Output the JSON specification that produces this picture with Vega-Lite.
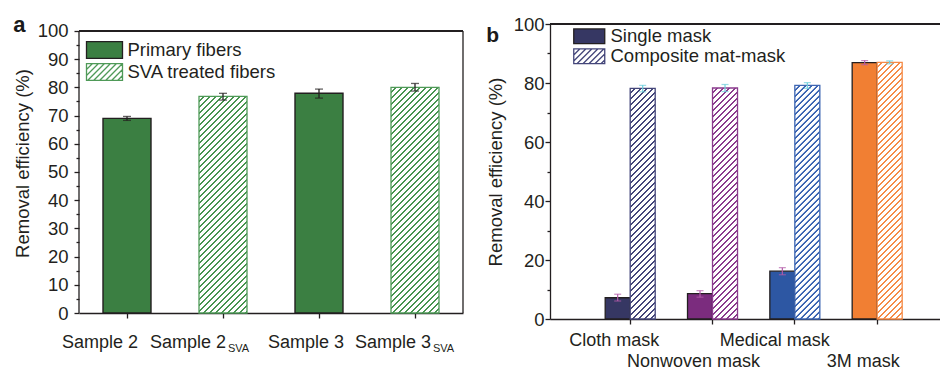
{
  "$schema": "https://vega.github.io/schema/vega-lite/v6.json",
  "background": "white",
  "padding": {"left": 13, "top": 14, "right": 0, "bottom": 0},
  "spacing": 22,
  "resolve": {
    "scale": {"shape": "independent", "fill": "independent", "stroke": "independent", "color": "independent"},
    "legend": {"shape": "independent", "fill": "independent", "stroke": "independent"}
  },
  "params": [
    {"name": "hatch", "value": [
      {"offset":0.0005,"color":"#fff"},{"offset":0.0125,"color":"#fff"},{"offset":0.0135,"color":"rgba(255,255,255,0)"},{"offset":0.0195,"color":"rgba(255,255,255,0)"},
      {"offset":0.0205,"color":"#fff"},{"offset":0.0325,"color":"#fff"},{"offset":0.0335,"color":"rgba(255,255,255,0)"},{"offset":0.0395,"color":"rgba(255,255,255,0)"},
      {"offset":0.0405,"color":"#fff"},{"offset":0.0525,"color":"#fff"},{"offset":0.0535,"color":"rgba(255,255,255,0)"},{"offset":0.0595,"color":"rgba(255,255,255,0)"},
      {"offset":0.0605,"color":"#fff"},{"offset":0.0725,"color":"#fff"},{"offset":0.0735,"color":"rgba(255,255,255,0)"},{"offset":0.0795,"color":"rgba(255,255,255,0)"},
      {"offset":0.0805,"color":"#fff"},{"offset":0.0925,"color":"#fff"},{"offset":0.0935,"color":"rgba(255,255,255,0)"},{"offset":0.0995,"color":"rgba(255,255,255,0)"},
      {"offset":0.1005,"color":"#fff"},{"offset":0.1125,"color":"#fff"},{"offset":0.1135,"color":"rgba(255,255,255,0)"},{"offset":0.1195,"color":"rgba(255,255,255,0)"},
      {"offset":0.1205,"color":"#fff"},{"offset":0.1325,"color":"#fff"},{"offset":0.1335,"color":"rgba(255,255,255,0)"},{"offset":0.1395,"color":"rgba(255,255,255,0)"},
      {"offset":0.1405,"color":"#fff"},{"offset":0.1525,"color":"#fff"},{"offset":0.1535,"color":"rgba(255,255,255,0)"},{"offset":0.1595,"color":"rgba(255,255,255,0)"},
      {"offset":0.1605,"color":"#fff"},{"offset":0.1725,"color":"#fff"},{"offset":0.1735,"color":"rgba(255,255,255,0)"},{"offset":0.1795,"color":"rgba(255,255,255,0)"},
      {"offset":0.1805,"color":"#fff"},{"offset":0.1925,"color":"#fff"},{"offset":0.1935,"color":"rgba(255,255,255,0)"},{"offset":0.1995,"color":"rgba(255,255,255,0)"},
      {"offset":0.2005,"color":"#fff"},{"offset":0.2125,"color":"#fff"},{"offset":0.2135,"color":"rgba(255,255,255,0)"},{"offset":0.2195,"color":"rgba(255,255,255,0)"},
      {"offset":0.2205,"color":"#fff"},{"offset":0.2325,"color":"#fff"},{"offset":0.2335,"color":"rgba(255,255,255,0)"},{"offset":0.2395,"color":"rgba(255,255,255,0)"},
      {"offset":0.2405,"color":"#fff"},{"offset":0.2525,"color":"#fff"},{"offset":0.2535,"color":"rgba(255,255,255,0)"},{"offset":0.2595,"color":"rgba(255,255,255,0)"},
      {"offset":0.2605,"color":"#fff"},{"offset":0.2725,"color":"#fff"},{"offset":0.2735,"color":"rgba(255,255,255,0)"},{"offset":0.2795,"color":"rgba(255,255,255,0)"},
      {"offset":0.2805,"color":"#fff"},{"offset":0.2925,"color":"#fff"},{"offset":0.2935,"color":"rgba(255,255,255,0)"},{"offset":0.2995,"color":"rgba(255,255,255,0)"},
      {"offset":0.3005,"color":"#fff"},{"offset":0.3125,"color":"#fff"},{"offset":0.3135,"color":"rgba(255,255,255,0)"},{"offset":0.3195,"color":"rgba(255,255,255,0)"},
      {"offset":0.3205,"color":"#fff"},{"offset":0.3325,"color":"#fff"},{"offset":0.3335,"color":"rgba(255,255,255,0)"},{"offset":0.3395,"color":"rgba(255,255,255,0)"},
      {"offset":0.3405,"color":"#fff"},{"offset":0.3525,"color":"#fff"},{"offset":0.3535,"color":"rgba(255,255,255,0)"},{"offset":0.3595,"color":"rgba(255,255,255,0)"},
      {"offset":0.3605,"color":"#fff"},{"offset":0.3725,"color":"#fff"},{"offset":0.3735,"color":"rgba(255,255,255,0)"},{"offset":0.3795,"color":"rgba(255,255,255,0)"},
      {"offset":0.3805,"color":"#fff"},{"offset":0.3925,"color":"#fff"},{"offset":0.3935,"color":"rgba(255,255,255,0)"},{"offset":0.3995,"color":"rgba(255,255,255,0)"},
      {"offset":0.4005,"color":"#fff"},{"offset":0.4125,"color":"#fff"},{"offset":0.4135,"color":"rgba(255,255,255,0)"},{"offset":0.4195,"color":"rgba(255,255,255,0)"},
      {"offset":0.4205,"color":"#fff"},{"offset":0.4325,"color":"#fff"},{"offset":0.4335,"color":"rgba(255,255,255,0)"},{"offset":0.4395,"color":"rgba(255,255,255,0)"},
      {"offset":0.4405,"color":"#fff"},{"offset":0.4525,"color":"#fff"},{"offset":0.4535,"color":"rgba(255,255,255,0)"},{"offset":0.4595,"color":"rgba(255,255,255,0)"},
      {"offset":0.4605,"color":"#fff"},{"offset":0.4725,"color":"#fff"},{"offset":0.4735,"color":"rgba(255,255,255,0)"},{"offset":0.4795,"color":"rgba(255,255,255,0)"},
      {"offset":0.4805,"color":"#fff"},{"offset":0.4925,"color":"#fff"},{"offset":0.4935,"color":"rgba(255,255,255,0)"},{"offset":0.4995,"color":"rgba(255,255,255,0)"},
      {"offset":0.5005,"color":"#fff"},{"offset":0.5125,"color":"#fff"},{"offset":0.5135,"color":"rgba(255,255,255,0)"},{"offset":0.5195,"color":"rgba(255,255,255,0)"},
      {"offset":0.5205,"color":"#fff"},{"offset":0.5325,"color":"#fff"},{"offset":0.5335,"color":"rgba(255,255,255,0)"},{"offset":0.5395,"color":"rgba(255,255,255,0)"},
      {"offset":0.5405,"color":"#fff"},{"offset":0.5525,"color":"#fff"},{"offset":0.5535,"color":"rgba(255,255,255,0)"},{"offset":0.5595,"color":"rgba(255,255,255,0)"},
      {"offset":0.5605,"color":"#fff"},{"offset":0.5725,"color":"#fff"},{"offset":0.5735,"color":"rgba(255,255,255,0)"},{"offset":0.5795,"color":"rgba(255,255,255,0)"},
      {"offset":0.5805,"color":"#fff"},{"offset":0.5925,"color":"#fff"},{"offset":0.5935,"color":"rgba(255,255,255,0)"},{"offset":0.5995,"color":"rgba(255,255,255,0)"},
      {"offset":0.6005,"color":"#fff"},{"offset":0.6125,"color":"#fff"},{"offset":0.6135,"color":"rgba(255,255,255,0)"},{"offset":0.6195,"color":"rgba(255,255,255,0)"},
      {"offset":0.6205,"color":"#fff"},{"offset":0.6325,"color":"#fff"},{"offset":0.6335,"color":"rgba(255,255,255,0)"},{"offset":0.6395,"color":"rgba(255,255,255,0)"},
      {"offset":0.6405,"color":"#fff"},{"offset":0.6525,"color":"#fff"},{"offset":0.6535,"color":"rgba(255,255,255,0)"},{"offset":0.6595,"color":"rgba(255,255,255,0)"},
      {"offset":0.6605,"color":"#fff"},{"offset":0.6725,"color":"#fff"},{"offset":0.6735,"color":"rgba(255,255,255,0)"},{"offset":0.6795,"color":"rgba(255,255,255,0)"},
      {"offset":0.6805,"color":"#fff"},{"offset":0.6925,"color":"#fff"},{"offset":0.6935,"color":"rgba(255,255,255,0)"},{"offset":0.6995,"color":"rgba(255,255,255,0)"},
      {"offset":0.7005,"color":"#fff"},{"offset":0.7125,"color":"#fff"},{"offset":0.7135,"color":"rgba(255,255,255,0)"},{"offset":0.7195,"color":"rgba(255,255,255,0)"},
      {"offset":0.7205,"color":"#fff"},{"offset":0.7325,"color":"#fff"},{"offset":0.7335,"color":"rgba(255,255,255,0)"},{"offset":0.7395,"color":"rgba(255,255,255,0)"},
      {"offset":0.7405,"color":"#fff"},{"offset":0.7525,"color":"#fff"},{"offset":0.7535,"color":"rgba(255,255,255,0)"},{"offset":0.7595,"color":"rgba(255,255,255,0)"},
      {"offset":0.7605,"color":"#fff"},{"offset":0.7725,"color":"#fff"},{"offset":0.7735,"color":"rgba(255,255,255,0)"},{"offset":0.7795,"color":"rgba(255,255,255,0)"},
      {"offset":0.7805,"color":"#fff"},{"offset":0.7925,"color":"#fff"},{"offset":0.7935,"color":"rgba(255,255,255,0)"},{"offset":0.7995,"color":"rgba(255,255,255,0)"},
      {"offset":0.8005,"color":"#fff"},{"offset":0.8125,"color":"#fff"},{"offset":0.8135,"color":"rgba(255,255,255,0)"},{"offset":0.8195,"color":"rgba(255,255,255,0)"},
      {"offset":0.8205,"color":"#fff"},{"offset":0.8325,"color":"#fff"},{"offset":0.8335,"color":"rgba(255,255,255,0)"},{"offset":0.8395,"color":"rgba(255,255,255,0)"},
      {"offset":0.8405,"color":"#fff"},{"offset":0.8525,"color":"#fff"},{"offset":0.8535,"color":"rgba(255,255,255,0)"},{"offset":0.8595,"color":"rgba(255,255,255,0)"},
      {"offset":0.8605,"color":"#fff"},{"offset":0.8725,"color":"#fff"},{"offset":0.8735,"color":"rgba(255,255,255,0)"},{"offset":0.8795,"color":"rgba(255,255,255,0)"},
      {"offset":0.8805,"color":"#fff"},{"offset":0.8925,"color":"#fff"},{"offset":0.8935,"color":"rgba(255,255,255,0)"},{"offset":0.8995,"color":"rgba(255,255,255,0)"},
      {"offset":0.9005,"color":"#fff"},{"offset":0.9125,"color":"#fff"},{"offset":0.9135,"color":"rgba(255,255,255,0)"},{"offset":0.9195,"color":"rgba(255,255,255,0)"},
      {"offset":0.9205,"color":"#fff"},{"offset":0.9325,"color":"#fff"},{"offset":0.9335,"color":"rgba(255,255,255,0)"},{"offset":0.9395,"color":"rgba(255,255,255,0)"},
      {"offset":0.9405,"color":"#fff"},{"offset":0.9525,"color":"#fff"},{"offset":0.9535,"color":"rgba(255,255,255,0)"},{"offset":0.9595,"color":"rgba(255,255,255,0)"},
      {"offset":0.9605,"color":"#fff"},{"offset":0.9725,"color":"#fff"},{"offset":0.9735,"color":"rgba(255,255,255,0)"},{"offset":0.9795,"color":"rgba(255,255,255,0)"},
      {"offset":0.9805,"color":"#fff"},{"offset":0.9925,"color":"#fff"},{"offset":0.9935,"color":"rgba(255,255,255,0)"},{"offset":0.9995,"color":"rgba(255,255,255,0)"}
    ]}
  ],
  "config": {
    "font": "Liberation Sans",
    "view": {"stroke": null},
    "axis": {
      "labelFont": "Liberation Sans", "titleFont": "Liberation Sans",
      "labelColor": "#231f20", "titleColor": "#231f20",
      "domainColor": "#231f20", "tickColor": "#231f20",
      "domainWidth": 1.3, "tickWidth": 1.3, "grid": false,
      "titleFontWeight": "normal", "labelFontSize": 18.5, "titleFontSize": 18.5
    },
    "legend": {"labelFont": "Liberation Sans", "labelFontSize": 18.5, "labelColor": "#231f20", "labelLimit": 400},
    "title": {"font": "Liberation Sans", "fontWeight": "bold", "color": "#1a1a1a"}
  },
  "hconcat": [
    {
      "width": 384,
      "height": 289,
      "title": {"text": "a", "anchor": "start", "frame": "bounds", "offset": 0, "dy": 15.5, "fontSize": 22},
      "resolve": {"axis": {"x": "independent", "y": "independent"}},
      "data": {"values": [
        {"sample": "Sample 2", "label": "Sample 2", "type": "Primary fibers", "value": 69.0, "lo": 68.3, "hi": 69.7, "sub": ""},
        {"sample": "Sample 2 SVA", "label": "Sample 2", "type": "SVA treated fibers", "value": 76.8, "lo": 75.5, "hi": 77.9, "sub": "SVA"},
        {"sample": "Sample 3", "label": "Sample 3", "type": "Primary fibers", "value": 77.9, "lo": 76.2, "hi": 79.4, "sub": ""},
        {"sample": "Sample 3 SVA", "label": "Sample 3", "type": "SVA treated fibers", "value": 80.0, "lo": 78.7, "hi": 81.4, "sub": "SVA"}
      ]},
      "layer": [
        {
          "transform": [{"filter": "datum.type === 'Primary fibers'"}],
          "mark": {"type": "bar", "fill": "#3b7f42", "stroke": "#231f20", "strokeWidth": 1.4},
          "encoding": {
            "x": {
              "field": "sample", "type": "nominal",
              "scale": {"domain": ["Sample 2", "Sample 2 SVA", "Sample 3", "Sample 3 SVA"], "paddingInner": 0.5, "paddingOuter": 0.25},
              "axis": {"title": null, "labels": false, "tickSize": 5}
            },
            "y": {
              "field": "value", "type": "quantitative", "title": "Removal efficiency (%)",
              "scale": {"domain": [0, 102.482], "nice": false},
              "axis": {
                "values": [0,5,10,15,20,25,30,35,40,45,50,55,60,65,70,75,80,85,90,95,100],
                "labelExpr": "datum.value % 10 === 0 ? datum.label : ''",
                "tickSize": {"condition": {"test": "datum.value % 10 !== 0", "value": 3}, "value": 5},
                "domain": false,
                "labelPadding": 6, "titlePadding": 5, "labelOverlap": false, "titleY": 139
              }
            }
          }
        },
        {
          "transform": [{"filter": "datum.type === 'SVA treated fibers'"}],
          "mark": {"type": "bar", "fill": "#47944f"},
          "encoding": {
            "x": {"field": "sample", "type": "nominal", "axis": null},
            "y": {"field": "value", "type": "quantitative", "axis": null}
          }
        },
        {
          "transform": [{"filter": "datum.type === 'SVA treated fibers'"}],
          "mark": {
            "type": "bar", "stroke": "#4f9a58", "strokeWidth": 1.3,
            "fill": {"expr": "{gradient: 'linear', x1: 0, y1: 0, x2: 300*48/(2304+pow(datum.value*2.82,2)), y2: 300*datum.value*2.82/(2304+pow(datum.value*2.82,2)), stops: hatch}"}
          },
          "encoding": {
            "x": {"field": "sample", "type": "nominal", "axis": null},
            "y": {"field": "value", "type": "quantitative", "axis": null}
          }
        },
        {
          "mark": {"type": "rule", "color": "#231f20", "strokeWidth": 1.3},
          "encoding": {
            "x": {"field": "sample", "type": "nominal", "axis": null},
            "y": {"field": "lo", "type": "quantitative", "axis": null},
            "y2": {"field": "hi"}
          }
        },
        {
          "mark": {"type": "tick", "color": "#231f20", "thickness": 1.3, "size": 8},
          "encoding": {
            "x": {"field": "sample", "type": "nominal", "axis": null},
            "y": {"field": "lo", "type": "quantitative", "axis": null}
          }
        },
        {
          "mark": {"type": "tick", "color": "#231f20", "thickness": 1.3, "size": 8},
          "encoding": {
            "x": {"field": "sample", "type": "nominal", "axis": null},
            "y": {"field": "hi", "type": "quantitative", "axis": null}
          }
        },
        {
          "mark": {"type": "rule", "color": "#231f20", "strokeWidth": 1.3},
          "encoding": {"y": {"datum": 100, "type": "quantitative", "axis": null}}
        },
        {
          "transform": [{"filter": "datum.sample === 'Sample 2'"}],
          "mark": {"type": "rule", "color": "#231f20", "strokeWidth": 1.3},
          "encoding": {
            "x": {"field": "sample", "type": "nominal", "bandPosition": -0.5, "axis": null},
            "y": {"datum": 0, "type": "quantitative", "axis": null},
            "y2": {"datum": 100}
          }
        },
        {
          "transform": [{"filter": "datum.sample === 'Sample 3 SVA'"}],
          "mark": {"type": "rule", "color": "#231f20", "strokeWidth": 1.3},
          "encoding": {
            "x": {"field": "sample", "type": "nominal", "bandPosition": 1.5, "axis": null},
            "y": {"datum": 0, "type": "quantitative", "axis": null},
            "y2": {"datum": 100}
          }
        },
        {
          "mark": {
            "type": "text", "align": "right", "baseline": "top", "fontSize": 18, "color": "#231f20",
            "dx": {"expr": "datum.sample === 'Sample 2' ? 11 : datum.sample === 'Sample 2 SVA' ? 3 : datum.sample === 'Sample 3' ? 25 : 16"},
            "dy": 21
          },
          "encoding": {
            "x": {"field": "sample", "type": "nominal", "axis": null},
            "y": {"datum": 0, "type": "quantitative", "axis": null},
            "text": {"field": "label"}
          }
        },
        {
          "transform": [{"filter": "datum.type === 'SVA treated fibers'"}],
          "mark": {
            "type": "text", "align": "left", "baseline": "top", "fontSize": 11, "color": "#231f20",
            "dx": {"expr": "datum.sample === 'Sample 2 SVA' ? 5 : 18"},
            "dy": 30
          },
          "encoding": {
            "x": {"field": "sample", "type": "nominal", "axis": null},
            "y": {"datum": 0, "type": "quantitative", "axis": null},
            "text": {"field": "sub"}
          }
        },
        {
          "mark": {"type": "point", "filled": true, "opacity": 0},
          "encoding": {
            "shape": {
              "field": "type", "type": "nominal",
              "scale": {
                "domain": ["Primary fibers", "SVA treated fibers"],
                "range": [
                  "M-2,-0.94H2V0.94H-2Z",
                  "M-2,-0.94H2V0.94H-2Z M-2,-0.273L-1.333,-0.94 M-2,0.393L-0.667,-0.94 M-1.88,0.94L0,-0.94 M-1.213,0.94L0.667,-0.94 M-0.547,0.94L1.333,-0.94 M0.12,0.94L2,-0.94 M0.787,0.94L2,-0.273 M1.453,0.94L2,0.393"
                ]
              },
              "legend": {
                "title": null, "orient": "none", "legendX": 15.5, "legendY": 16,
                "symbolSize": 324, "symbolStrokeWidth": 1.3, "symbolOpacity": 1,
                "labelOffset": 13, "rowPadding": -4.5, "padding": 0, "labelFontSize": 18.5
              }
            },
            "fill": {
              "field": "type", "type": "nominal",
              "scale": {"domain": ["Primary fibers", "SVA treated fibers"], "range": ["#3b7f42", "#ffffff"]},
              "legend": {
                "title": null, "orient": "none", "legendX": 15.5, "legendY": 16,
                "symbolSize": 324, "symbolStrokeWidth": 1.3, "symbolOpacity": 1,
                "labelOffset": 13, "rowPadding": -4.5, "padding": 0, "labelFontSize": 18.5
              }
            },
            "stroke": {
              "field": "type", "type": "nominal",
              "scale": {"domain": ["Primary fibers", "SVA treated fibers"], "range": ["#231f20", "#4f9a58"]},
              "legend": {
                "title": null, "orient": "none", "legendX": 15.5, "legendY": 16,
                "symbolSize": 324, "symbolStrokeWidth": 1.3, "symbolOpacity": 1,
                "labelOffset": 13, "rowPadding": -4.5, "padding": 0, "labelFontSize": 18.5
              }
            }
          }
        }
      ]
    },
    {
      "width": 391,
      "height": 295,
      "title": {"text": "b", "anchor": "start", "frame": "bounds", "offset": 0, "dy": 31, "fontSize": 21},
      "resolve": {"axis": {"x": "independent", "y": "independent"}},
      "data": {"values": [
        {"mask": "Cloth mask", "type": "Single mask", "value": 7.2, "lo": 6.1, "hi": 8.4},
        {"mask": "Cloth mask", "type": "Composite mat-mask", "value": 78.2, "lo": 77.0, "hi": 79.2},
        {"mask": "Nonwoven mask", "type": "Single mask", "value": 8.6, "lo": 7.4, "hi": 9.6},
        {"mask": "Nonwoven mask", "type": "Composite mat-mask", "value": 78.3, "lo": 77.1, "hi": 79.5},
        {"mask": "Medical mask", "type": "Single mask", "value": 16.2, "lo": 15.0, "hi": 17.4},
        {"mask": "Medical mask", "type": "Composite mat-mask", "value": 79.2, "lo": 78.2, "hi": 80.1},
        {"mask": "3M mask", "type": "Single mask", "value": 86.9, "lo": 86.2, "hi": 87.6},
        {"mask": "3M mask", "type": "Composite mat-mask", "value": 87.0, "lo": 86.5, "hi": 87.5}
      ]},
      "layer": [
        {
          "transform": [{"filter": "datum.type === 'Single mask'"}],
          "mark": {"type": "bar", "stroke": "#231f20", "strokeWidth": 1.3},
          "encoding": {
            "x": {
              "field": "mask", "type": "nominal",
              "scale": {"domain": ["Cloth mask", "Nonwoven mask", "Medical mask", "3M mask"], "paddingInner": 0.3927, "paddingOuter": 0.571, "align": 0.587},
              "axis": {"title": null, "labels": false, "tickSize": 5}
            },
            "xOffset": {"field": "type", "type": "nominal", "scale": {"domain": ["Single mask", "Composite mat-mask"], "paddingInner": 0, "paddingOuter": 0}},
            "y": {
              "field": "value", "type": "quantitative", "title": "Removal efficiency (%)",
              "scale": {"domain": [0, 100], "nice": false},
              "axis": {
                "values": [0,10,20,30,40,50,60,70,80,90,100],
                "labelExpr": "datum.value % 20 === 0 ? datum.label : ''",
                "tickSize": {"condition": {"test": "datum.value % 20 !== 0", "value": 3}, "value": 5},
                "labelPadding": 1, "titlePadding": 8, "labelOverlap": false
              }
            },
            "fill": {"condition": [
              {"test": "datum.mask === 'Cloth mask'", "value": "#363763"},
              {"test": "datum.mask === 'Nonwoven mask'", "value": "#7b2c7e"},
              {"test": "datum.mask === 'Medical mask'", "value": "#2d57a3"}
            ], "value": "#f17f33"}
          }
        },
        {
          "transform": [{"filter": "datum.type === 'Composite mat-mask'"}],
          "mark": {"type": "bar"},
          "encoding": {
            "x": {"field": "mask", "type": "nominal", "axis": null},
            "xOffset": {"field": "type", "type": "nominal"},
            "y": {"field": "value", "type": "quantitative", "axis": null},
            "fill": {"condition": [
              {"test": "datum.mask === 'Cloth mask'", "value": "#44467a"},
              {"test": "datum.mask === 'Nonwoven mask'", "value": "#8a3b8d"},
              {"test": "datum.mask === 'Medical mask'", "value": "#3d66b3"}
            ], "value": "#f58b47"}
          }
        },
        {
          "transform": [{"filter": "datum.type === 'Composite mat-mask'"}],
          "mark": {
            "type": "bar", "strokeWidth": 1.3,
            "fill": {"expr": "{gradient: 'linear', x1: 0, y1: 0, x2: 300*25/(625+pow(datum.value*2.95,2)), y2: 300*datum.value*2.95/(625+pow(datum.value*2.95,2)), stops: hatch}"}
          },
          "encoding": {
            "x": {"field": "mask", "type": "nominal", "axis": null},
            "xOffset": {"field": "type", "type": "nominal"},
            "y": {"field": "value", "type": "quantitative", "axis": null},
            "stroke": {"condition": [
              {"test": "datum.mask === 'Cloth mask'", "value": "#44467a"},
              {"test": "datum.mask === 'Nonwoven mask'", "value": "#8a3b8d"},
              {"test": "datum.mask === 'Medical mask'", "value": "#3d66b3"}
            ], "value": "#f58b47"}
          }
        },
        {
          "mark": {"type": "rule", "strokeWidth": 1.2},
          "encoding": {
            "x": {"field": "mask", "type": "nominal", "axis": null},
            "xOffset": {"field": "type", "type": "nominal"},
            "y": {"field": "lo", "type": "quantitative", "axis": null},
            "y2": {"field": "hi"},
            "color": {"condition": {"test": "datum.type === 'Single mask'", "value": "#b25aa8"}, "value": "#6ccfdc"}
          }
        },
        {
          "mark": {"type": "tick", "thickness": 1.2, "size": 7},
          "encoding": {
            "x": {"field": "mask", "type": "nominal", "axis": null},
            "xOffset": {"field": "type", "type": "nominal"},
            "y": {"field": "lo", "type": "quantitative", "axis": null},
            "color": {"condition": {"test": "datum.type === 'Single mask'", "value": "#b25aa8"}, "value": "#6ccfdc"}
          }
        },
        {
          "mark": {"type": "tick", "thickness": 1.2, "size": 7},
          "encoding": {
            "x": {"field": "mask", "type": "nominal", "axis": null},
            "xOffset": {"field": "type", "type": "nominal"},
            "y": {"field": "hi", "type": "quantitative", "axis": null},
            "color": {"condition": {"test": "datum.type === 'Single mask'", "value": "#b25aa8"}, "value": "#6ccfdc"}
          }
        },
        {
          "mark": {"type": "rule", "color": "#231f20", "strokeWidth": 1.3},
          "encoding": {"y": {"datum": 100, "type": "quantitative", "axis": null}}
        },
        {
          "transform": [{"filter": "datum.type === 'Single mask'"}],
          "mark": {
            "type": "text", "align": "center", "baseline": "top", "fontSize": 18, "color": "#231f20",
            "dx": {"expr": "datum.mask === 'Cloth mask' ? -16 : datum.mask === 'Nonwoven mask' ? -19 : datum.mask === 'Medical mask' ? -20 : -14"},
            "dy": {"expr": "datum.mask === 'Cloth mask' || datum.mask === 'Medical mask' ? 12.5 : 34"}
          },
          "encoding": {
            "x": {"field": "mask", "type": "nominal", "axis": null},
            "y": {"datum": 0, "type": "quantitative", "axis": null},
            "text": {"field": "mask"}
          }
        },
        {
          "mark": {"type": "point", "filled": true, "opacity": 0},
          "encoding": {
            "shape": {
              "field": "type", "type": "nominal",
              "scale": {
                "domain": ["Single mask", "Composite mat-mask"],
                "range": [
                  "M-2,-0.94H2V0.94H-2Z",
                  "M-2,-0.94H2V0.94H-2Z M-2,-0.166L-1.226,-0.94 M-2,0.608L-0.452,-0.94 M-1.558,0.94L0.322,-0.94 M-0.784,0.94L1.096,-0.94 M-0.01,0.94L1.87,-0.94 M0.764,0.94L2,-0.296 M1.538,0.94L2,0.478"
                ]
              },
              "legend": {
                "title": null, "orient": "none", "legendX": 30, "legendY": 3,
                "symbolSize": 240, "symbolStrokeWidth": 1.3, "symbolOpacity": 1,
                "labelOffset": 12, "rowPadding": -6.5, "padding": 0, "labelFontSize": 18.5
              }
            },
            "fill": {
              "field": "type", "type": "nominal",
              "scale": {"domain": ["Single mask", "Composite mat-mask"], "range": ["#363763", "#ffffff"]},
              "legend": {
                "title": null, "orient": "none", "legendX": 30, "legendY": 3,
                "symbolSize": 240, "symbolStrokeWidth": 1.3, "symbolOpacity": 1,
                "labelOffset": 12, "rowPadding": -6.5, "padding": 0, "labelFontSize": 18.5
              }
            },
            "stroke": {
              "field": "type", "type": "nominal",
              "scale": {"domain": ["Single mask", "Composite mat-mask"], "range": ["#231f20", "#44467a"]},
              "legend": {
                "title": null, "orient": "none", "legendX": 30, "legendY": 3,
                "symbolSize": 240, "symbolStrokeWidth": 1.3, "symbolOpacity": 1,
                "labelOffset": 12, "rowPadding": -6.5, "padding": 0, "labelFontSize": 18.5
              }
            }
          }
        }
      ]
    }
  ]
}
